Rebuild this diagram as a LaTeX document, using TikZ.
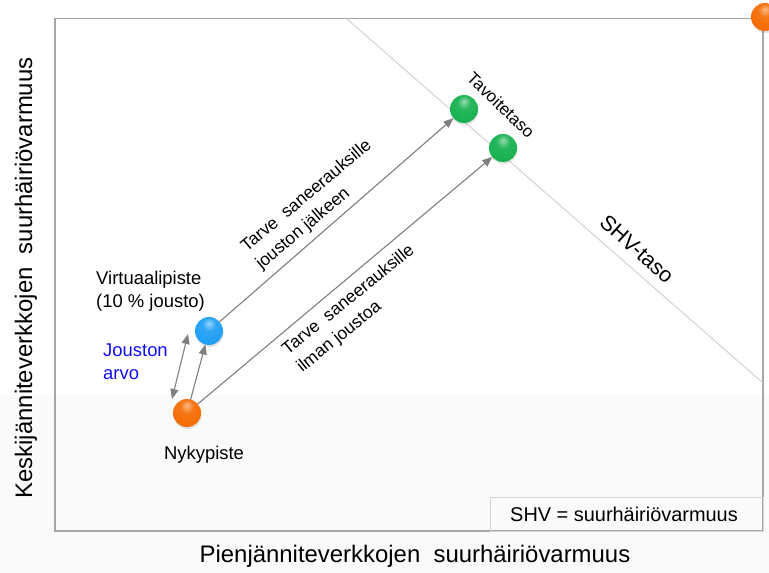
\documentclass[tikz,border=0pt]{standalone}
\usepackage{fontspec}
\setmainfont{Liberation Sans}
\usetikzlibrary{arrows.meta,shadows}
\definecolor{framegray}{HTML}{A6A6A6}
\definecolor{lightline}{HTML}{D4D4D4}
\definecolor{arrowgray}{HTML}{7F7F7F}
\definecolor{bgband}{HTML}{FAFAFA}
\definecolor{ballorange}{HTML}{F56A00}
\definecolor{ballgreen}{HTML}{14B04E}
\definecolor{ballblue}{HTML}{1C9EF5}
\definecolor{txtblue}{HTML}{1010F0}
\pgfdeclareradialshading{orangeballsh}{\pgfpoint{0bp}{14bp}}{%
  color(0bp)=(ballorange!45!white); color(12bp)=(ballorange!92!white);
  color(34bp)=(ballorange); color(48bp)=(ballorange!80!black); color(70bp)=(ballorange!80!black)}
\pgfdeclareradialshading{greenballsh}{\pgfpoint{0bp}{14bp}}{%
  color(0bp)=(ballgreen!45!white); color(12bp)=(ballgreen!92!white);
  color(34bp)=(ballgreen); color(48bp)=(ballgreen!78!black); color(70bp)=(ballgreen!78!black)}
\pgfdeclareradialshading{blueballsh}{\pgfpoint{0bp}{14bp}}{%
  color(0bp)=(ballblue!45!white); color(12bp)=(ballblue!92!white);
  color(34bp)=(ballblue); color(48bp)=(ballblue!78!black); color(70bp)=(ballblue!78!black)}
\tikzset{
  ball/.style={circle, minimum size=28bp, inner sep=0pt, outer sep=0pt,
    drop shadow={shadow xshift=0.6bp, shadow yshift=-2bp, opacity=0.22}},
  conn/.style={draw=arrowgray, line width=1.1bp, -{Triangle[length=10bp,width=8bp]}},
  dconn/.style={draw=arrowgray, line width=1.1bp, {Triangle[length=10bp,width=8bp]}-{Triangle[length=10bp,width=8bp]}},
  lbl/.style={font=\fontsize{18.5}{23}\selectfont, inner sep=0pt, align=left},
  axlbl/.style={font=\fontsize{24}{28}\selectfont, inner sep=0pt}
}
\begin{document}
\begin{tikzpicture}[x=1bp,y=-1bp]
\useasboundingbox (0,0) rectangle (769,573);
\fill[white] (0,0) rectangle (769,573);
\fill[bgband] (0,395) rectangle (769,573);
% frame
\draw[framegray, line width=1.4bp] (55,18.5) rectangle (763,531);
% SHV level line
\coordinate (s1) at (347,19);
\coordinate (s2) at (763,383);
\draw[lightline, line width=1bp] (s1) -- (s2);
% note box
\draw[lightline, line width=1bp] (490,497) rectangle (763,531);
\node[lbl, font=\fontsize{20}{24}\selectfont] (note) at (624,514) {SHV = suurhäiriövarmuus};
% balls
\node[ball, shading=orangeballsh] (corner) at (765,17) {};
\node[ball, shading=greenballsh] (g1) at (464,109) {};
\node[ball, shading=greenballsh] (g2) at (503,148) {};
\node[ball, shading=blueballsh] (vp) at (209,331) {};
\node[ball, shading=orangeballsh] (np) at (187,413) {};
% connectors
\draw[conn] (vp) -- (g1);
\draw[conn] (np) -- (g2);
\draw[conn] (np) -- (vp);
\coordinate (ja1) at (172,399);
\coordinate (ja2) at (188,334);
\draw[dconn] (ja1) -- (ja2);
% labels
\node[lbl, anchor=west] (vtxt) at (96,291) {Virtuaalipiste\\(10 \% jousto)};
\node[lbl, anchor=west, text=txtblue] (jtxt) at (103,362) {Jouston\\arvo};
\node[lbl] (ntxt) at (204,455) {Nykypiste};
\node[lbl, font=\fontsize{17}{20}\selectfont, rotate=-44] (ttxt) at (501,105) {Tavoitetaso};
\node[lbl, font=\fontsize{21.5}{25}\selectfont, rotate=-42] (shvtxt) at (637,249) {SHV-taso};
\node[lbl, font=\fontsize{17.5}{23}\selectfont, rotate=40] (up) at (314,205) {Tarve\ \ saneerauksille\\jouston jälkeen};
\node[lbl, font=\fontsize{17.5}{23}\selectfont, rotate=39] (lo) at (356,309) {Tarve\ \ saneerauksille\\ilman joustoa};
% axis labels
\node[axlbl] (xlab) at (415,556) {Pienjänniteverkkojen\ \ suurhäiriövarmuus};
\node[axlbl, rotate=90] (ylab) at (26,278) {Keskijänniteverkkojen\ \ suurhäiriövarmuus};
\end{tikzpicture}
\end{document}
